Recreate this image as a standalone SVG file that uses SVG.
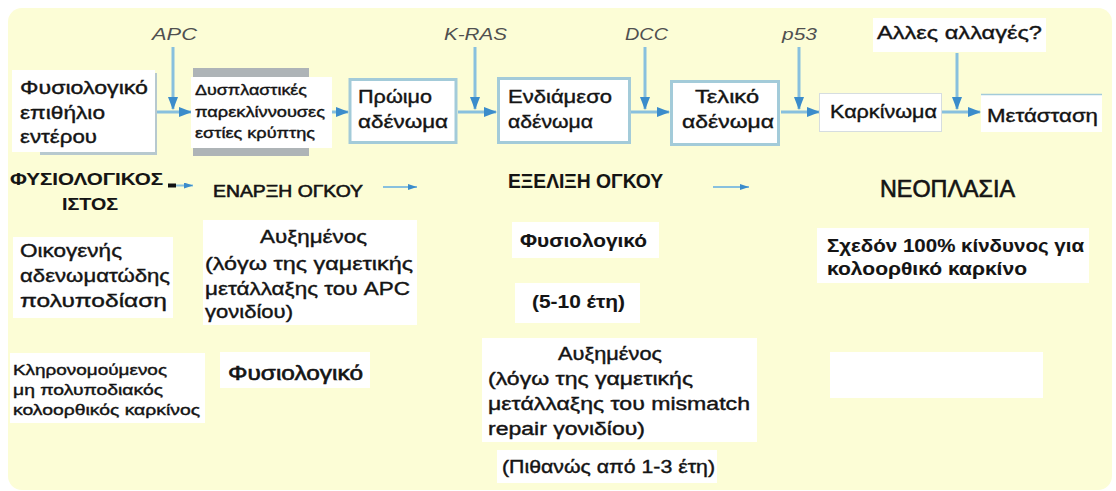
<svg xmlns="http://www.w3.org/2000/svg" width="1116" height="491" viewBox="0 0 1116 491">
<style>
text{font-family:"Liberation Sans",Arial,"DejaVu Sans",sans-serif;fill:#141414;stroke:#141414;stroke-width:0.4}
.gene{font-style:italic;fill:#505050;stroke:none;font-size:17px}
.b19{font-size:19px}
.b15{font-size:15px}
.bold{font-weight:bold;stroke-width:0.1}
.wb{fill:#ffffff}
.blue{fill:#ffffff;stroke:#a3cbd9;stroke-width:3}
.conn{stroke:#88c0de;stroke-width:3;fill:none}
.conns{stroke:#88c0de;stroke-width:2;fill:none}
</style>
<defs>
<marker id="ah" markerUnits="userSpaceOnUse" markerWidth="13" markerHeight="10" refX="12" refY="5" orient="auto">
<path d="M0,0 L13,5 L0,10 Z" fill="#3b8ccb"/>
</marker>
<marker id="ahs" markerUnits="userSpaceOnUse" markerWidth="9" markerHeight="6" refX="9" refY="3" orient="auto">
<path d="M0,0 L9,3 L0,6 Z" fill="#3b8ccb"/>
</marker>
</defs>
<rect x="8" y="8" width="1104" height="482" rx="14" fill="#fcfdd6"/>

<g id="connectors">
<line class="conn" x1="155" y1="112" x2="191" y2="112" marker-end="url(#ah)"/>
<line class="conn" x1="332" y1="112" x2="348" y2="112" marker-end="url(#ah)"/>
<line class="conn" x1="458" y1="112" x2="496" y2="112" marker-end="url(#ah)"/>
<line class="conn" x1="631" y1="112" x2="669" y2="112" marker-end="url(#ah)"/>
<line class="conn" x1="781" y1="112" x2="819" y2="112" marker-end="url(#ah)"/>
<line class="conn" x1="942" y1="112" x2="980" y2="112" marker-end="url(#ah)"/>
<line class="conn" x1="173" y1="47" x2="173" y2="109" marker-end="url(#ah)"/>
<line class="conn" x1="475" y1="47" x2="475" y2="109" marker-end="url(#ah)"/>
<line class="conn" x1="645" y1="47" x2="645" y2="109" marker-end="url(#ah)"/>
<line class="conn" x1="799" y1="47" x2="799" y2="109" marker-end="url(#ah)"/>
<line class="conn" x1="957" y1="53" x2="957" y2="109" marker-end="url(#ah)"/>
<rect x="168" y="183.5" width="8" height="4" fill="#111"/>
<line class="conns" x1="176" y1="185.5" x2="193" y2="185.5" marker-end="url(#ahs)"/>
<line class="conns" x1="383" y1="187" x2="417" y2="187" marker-end="url(#ahs)"/>
<line class="conns" x1="713" y1="187" x2="749" y2="187" marker-end="url(#ahs)"/>
</g>

<g id="gene-apc"><text class="gene" x="152" y="40" textLength="45" lengthAdjust="spacingAndGlyphs">APC</text></g>
<g id="gene-kras"><text class="gene" x="444" y="40" textLength="63" lengthAdjust="spacingAndGlyphs">K-RAS</text></g>
<g id="gene-dcc"><text class="gene" x="625" y="40" textLength="43" lengthAdjust="spacingAndGlyphs">DCC</text></g>
<g id="gene-p53"><text class="gene" x="782" y="40" textLength="35" lengthAdjust="spacingAndGlyphs">p53</text></g>

<g id="node-normal-epithelium">
<rect x="40" y="73" width="117" height="82" fill="#b7c9cf"/>
<rect x="12" y="70" width="143" height="82" class="wb"/>
<text class="b19" x="20" y="94" textLength="128" lengthAdjust="spacingAndGlyphs">Φυσιολογικό</text>
<text class="b19" x="20" y="119" textLength="85" lengthAdjust="spacingAndGlyphs">επιθήλιο</text>
<text class="b19" x="20" y="143" textLength="77" lengthAdjust="spacingAndGlyphs">εντέρου</text>
</g>

<g id="node-dysplastic-foci">
<rect x="193" y="68" width="116" height="88" fill="#aeb4b7"/>
<rect x="191" y="77" width="141" height="71" class="wb"/>
<text class="b15" x="195" y="95" textLength="112" lengthAdjust="spacingAndGlyphs">Δυσπλαστικές</text>
<text class="b15" x="195" y="117" textLength="130" lengthAdjust="spacingAndGlyphs">παρεκλίννουσες</text>
<text class="b15" x="195" y="138" textLength="120" lengthAdjust="spacingAndGlyphs">εστίες κρύπτης</text>
</g>

<g id="node-early-adenoma">
<rect x="350" y="79.5" width="106" height="63" class="blue"/>
<text class="b19" x="358" y="103" textLength="74" lengthAdjust="spacingAndGlyphs">Πρώιμο</text>
<text class="b19" x="358" y="128" textLength="90" lengthAdjust="spacingAndGlyphs">αδένωμα</text>
</g>

<g id="node-intermediate-adenoma">
<rect x="498.5" y="78.5" width="131" height="64" class="blue"/>
<text class="b19" x="508" y="103" textLength="104" lengthAdjust="spacingAndGlyphs">Ενδιάμεσο</text>
<text class="b19" x="508" y="128" textLength="85" lengthAdjust="spacingAndGlyphs">αδένωμα</text>
</g>

<g id="node-late-adenoma">
<rect x="671.5" y="81.5" width="107" height="63" class="blue"/>
<text class="b19" x="695" y="103" textLength="64" lengthAdjust="spacingAndGlyphs">Τελικό</text>
<text class="b19" x="682" y="128" textLength="92" lengthAdjust="spacingAndGlyphs">αδένωμα</text>
</g>

<g id="node-carcinoma">
<rect x="819.5" y="93.5" width="122" height="38" fill="#fff" stroke="#d6dde0" stroke-width="1"/>
<text class="b19" x="830" y="118" textLength="107" lengthAdjust="spacingAndGlyphs">Καρκίνωμα</text>
</g>

<g id="node-metastasis">
<rect x="981" y="94" width="121" height="38" class="wb"/>
<line x1="981" y1="94.5" x2="1102" y2="94.5" stroke="#a3cbd9" stroke-width="1.5"/>
<text class="b19" x="987" y="122" textLength="111" lengthAdjust="spacingAndGlyphs">Μετάσταση</text>
</g>

<g id="node-other-changes">
<rect x="873" y="18" width="173" height="34" class="wb"/>
<text class="b19" x="877" y="39" textLength="165" lengthAdjust="spacingAndGlyphs">Αλλες αλλαγές?</text>
</g>

<g id="label-normal-tissue">
<text class="bold" font-size="16" x="10" y="185" textLength="153" lengthAdjust="spacingAndGlyphs">ΦΥΣΙΟΛΟΓΙΚΟΣ</text>
<text class="bold" font-size="16" x="62" y="210" textLength="56" lengthAdjust="spacingAndGlyphs">ΙΣΤΟΣ</text>
</g>
<g id="label-tumor-initiation">
<text font-size="17" x="213" y="197" textLength="150" lengthAdjust="spacingAndGlyphs" style="stroke-width:0.6">ΕΝΑΡΞΗ ΟΓΚΟΥ</text>
</g>
<g id="label-tumor-progression">
<text class="bold" font-size="20" x="508" y="188" textLength="155" lengthAdjust="spacingAndGlyphs">ΕΞΕΛΙΞΗ ΟΓΚΟΥ</text>
</g>
<g id="label-neoplasia">
<text font-size="23" x="880" y="197" textLength="135" lengthAdjust="spacingAndGlyphs" style="stroke-width:0.6">ΝΕΟΠΛΑΣΙΑ</text>
</g>

<g id="node-fap">
<rect x="13" y="237" width="160" height="81" class="wb"/>
<text class="b19" x="20" y="257" textLength="102" lengthAdjust="spacingAndGlyphs">Οικογενής</text>
<text class="b19" x="20" y="282" textLength="150" lengthAdjust="spacingAndGlyphs">αδενωματώδης</text>
<text class="b19" x="20" y="307" textLength="147" lengthAdjust="spacingAndGlyphs">πολυποδίαση</text>
</g>

<g id="node-fap-initiation">
<rect x="203" y="220" width="214" height="105" class="wb"/>
<text class="b19" x="260" y="243" textLength="107" lengthAdjust="spacingAndGlyphs">Αυξημένος</text>
<text class="b19" x="205" y="270" textLength="208" lengthAdjust="spacingAndGlyphs">(λόγω της γαμετικής</text>
<text class="b19" x="205" y="295" textLength="205" lengthAdjust="spacingAndGlyphs">μετάλλαξης του APC</text>
<text class="b19" x="205" y="318" textLength="88" lengthAdjust="spacingAndGlyphs">γονιδίου)</text>
</g>

<g id="node-fap-progression">
<rect x="512" y="222" width="147" height="36" class="wb"/>
<text class="bold" font-size="19" x="520" y="247" textLength="127" lengthAdjust="spacingAndGlyphs">Φυσιολογικό</text>
</g>

<g id="node-fap-years">
<rect x="515" y="283" width="125" height="40" class="wb"/>
<text class="bold" font-size="19" x="532" y="308" textLength="93" lengthAdjust="spacingAndGlyphs">(5-10 έτη)</text>
</g>

<g id="node-fap-neoplasia">
<rect x="817" y="228" width="272" height="55" class="wb"/>
<text class="bold" font-size="19" x="827" y="252" textLength="257" lengthAdjust="spacingAndGlyphs">Σχεδόν 100% κίνδυνος για</text>
<text class="bold" font-size="19" x="827" y="275" textLength="200" lengthAdjust="spacingAndGlyphs">κολοορθικό καρκίνο</text>
</g>

<g id="node-hnpcc">
<rect x="10" y="353" width="195" height="70" class="wb"/>
<text class="b15" x="13" y="375" textLength="154" lengthAdjust="spacingAndGlyphs">Κληρονομούμενος</text>
<text class="b15" x="13" y="395" textLength="150" lengthAdjust="spacingAndGlyphs">μη πολυποδιακός</text>
<text class="b15" x="13" y="415" textLength="187" lengthAdjust="spacingAndGlyphs">κολοορθικός καρκίνος</text>
</g>

<g id="node-hnpcc-initiation">
<rect x="220" y="352" width="150" height="36" class="wb"/>
<text font-size="20" x="228" y="380" textLength="135" lengthAdjust="spacingAndGlyphs" style="stroke-width:0.6">Φυσιολογικό</text>
</g>

<g id="node-hnpcc-progression">
<rect x="482" y="338" width="275" height="104" class="wb"/>
<text font-size="18" x="558" y="360" textLength="104" lengthAdjust="spacingAndGlyphs">Αυξημένος</text>
<text font-size="18" x="488" y="385" textLength="205" lengthAdjust="spacingAndGlyphs">(λόγω της γαμετικής</text>
<text font-size="18" x="488" y="410" textLength="262" lengthAdjust="spacingAndGlyphs">μετάλλαξης του mismatch</text>
<text font-size="18" x="488" y="435" textLength="157" lengthAdjust="spacingAndGlyphs">repair γονιδίου)</text>
</g>

<g id="node-hnpcc-years">
<rect x="497" y="450" width="220" height="33" class="wb"/>
<text font-size="18" x="502" y="473" textLength="213" lengthAdjust="spacingAndGlyphs">(Πιθανώς από 1-3 έτη)</text>
</g>

<g id="node-hnpcc-neoplasia">
<rect x="830" y="352" width="213" height="46" class="wb"/>
</g>
</svg>
